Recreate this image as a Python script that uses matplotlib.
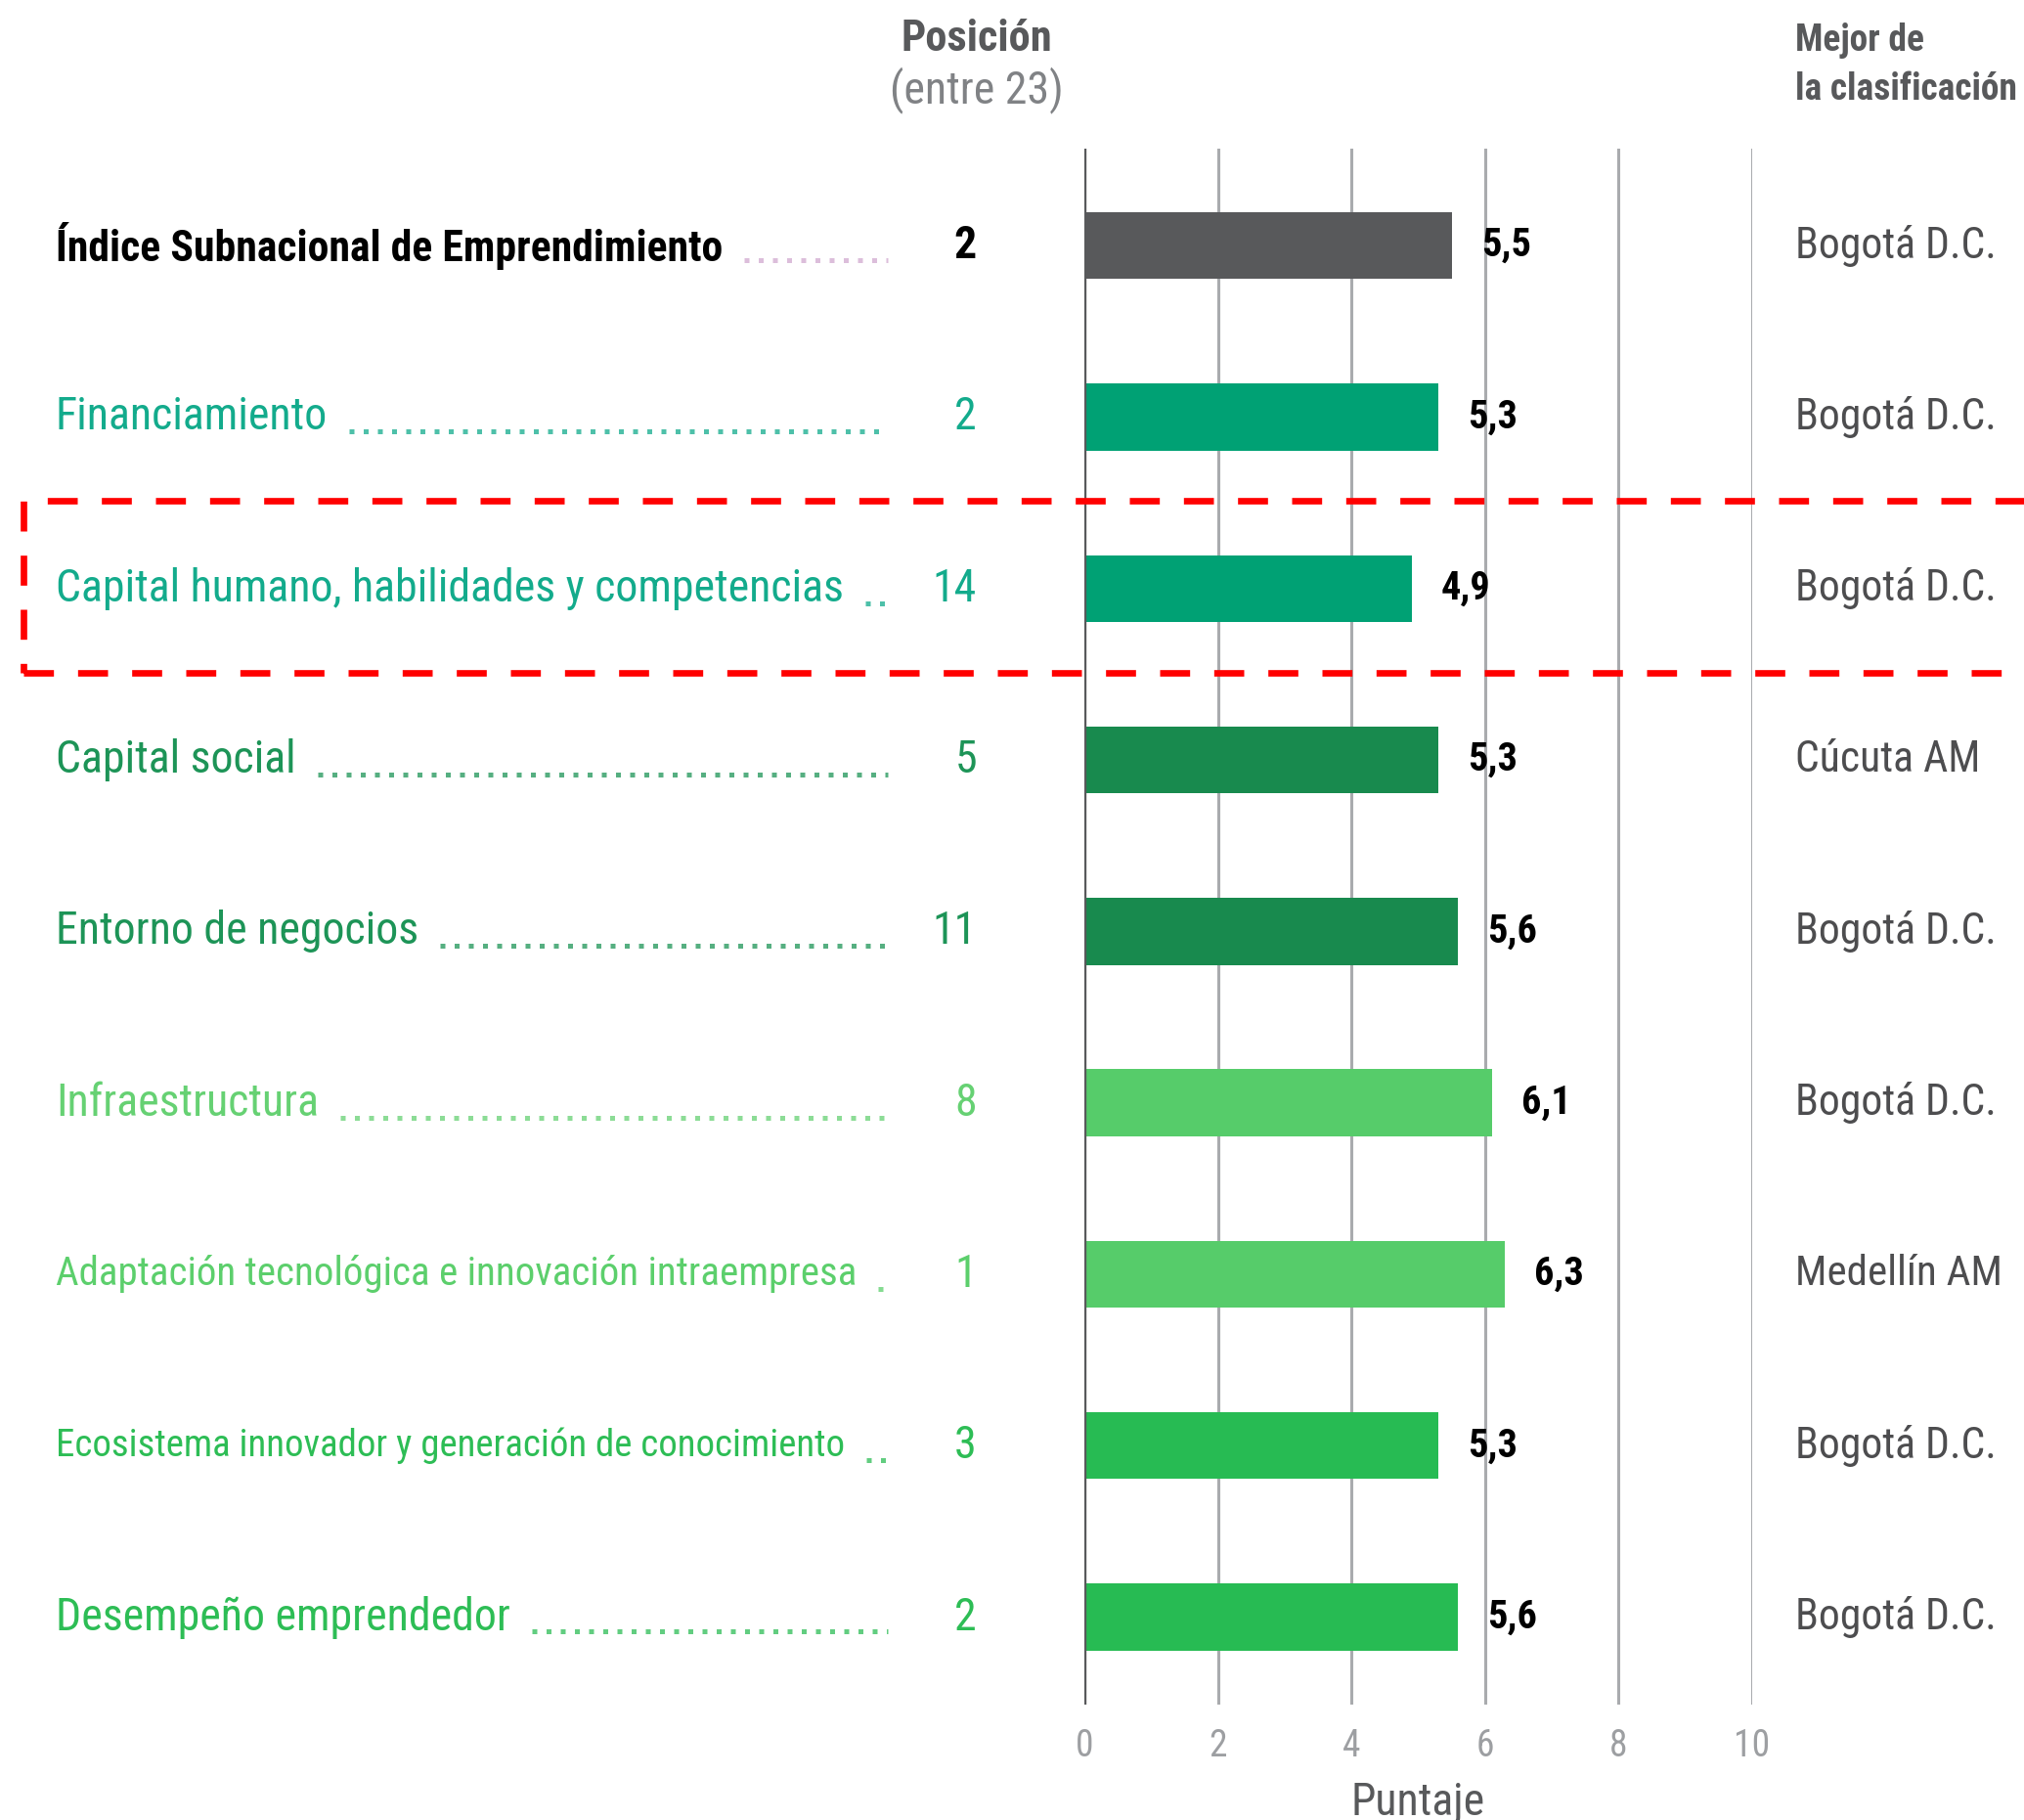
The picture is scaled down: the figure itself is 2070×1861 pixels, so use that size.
import matplotlib
matplotlib.use('Agg')
import matplotlib.pyplot as plt
from matplotlib import font_manager
from matplotlib.transforms import blended_transform_factory
from matplotlib.patches import Rectangle

# ============================================================
# FUENTE: una condensada si hay, si no Liberation Sans
# ============================================================
fuentes = font_manager.fontManager.ttflist
familia = None
estiramiento = 'normal'
for cand in ['Liberation Sans Narrow', 'Roboto Condensed', 'Open Sans Condensed',
             'Noto Sans Condensed', 'DejaVu Sans Condensed']:
    if any(f.name == cand for f in fuentes):
        familia = cand
        break
if familia is None:
    for f in fuentes:
        if f.stretch in ('condensed', 'semi-condensed') and 'Mono' not in f.name and 'Serif' not in f.name:
            familia = f.name
            estiramiento = f.stretch
            break
if familia is None:
    familia = 'Liberation Sans'
plt.rcParams['font.family'] = [familia, 'DejaVu Sans']
plt.rcParams['font.stretch'] = estiramiento

# ============================================================
# DATOS
# ============================================================
categorias = ['Índice Subnacional de Emprendimiento',
              'Financiamiento',
              'Capital humano, habilidades y competencias',
              'Capital social',
              'Entorno de negocios',
              'Infraestructura',
              'Adaptación tecnológica e innovación intraempresa',
              'Ecosistema innovador y generación de conocimiento',
              'Desempeño emprendedor']
puntajes   = [5.5, 5.3, 4.9, 5.3, 5.6, 6.1, 6.3, 5.3, 5.6]
posiciones = [2, 2, 14, 5, 11, 8, 1, 3, 2]
mejores    = ['Bogotá D.C.', 'Bogotá D.C.', 'Bogotá D.C.', 'Cúcuta AM', 'Bogotá D.C.',
              'Bogotá D.C.', 'Medellín AM', 'Bogotá D.C.', 'Bogotá D.C.']
ticks      = [0, 2, 4, 6, 8, 10]

colores_barra  = ['#58595b', '#00a174', '#00a174', '#188a4e', '#188a4e',
                  '#56cc6a', '#56cc6a', '#27bb53', '#27bb53']
colores_texto  = ['#000000', '#13ab8c', '#13ab8c', '#1d9457', '#1d9457',
                  '#66d173', '#5ccf6c', '#2dbd55', '#2dbd55']
colores_puntos = ['#d1a9cf', '#13ab8c', '#13ab8c', '#1d9457', '#1d9457',
                  '#66d173', '#5ccf6c', '#2dbd55', '#2dbd55']

# ============================================================
# FIGURA
# ============================================================
W, H = 2070, 1861
fig = plt.figure(figsize=(W / 100, H / 100), dpi=100)

def fx(px):
    return px / W

def fy(py):
    return 1 - py / H

def ajustar(t, ancho_max, r):
    # achica la letra hasta que el texto quepa
    tam = t.get_fontsize()
    while t.get_window_extent(r).width > ancho_max and tam > 8:
        tam = tam - 0.5
        t.set_fontsize(tam)

x0, x10, ytop, ybot = 1109, 1792, 152, 1743
ax = fig.add_axes([fx(x0), fy(ybot), fx(x10 - x0), (ybot - ytop) / H])

n = len(categorias)
filas = list(range(n))
ax.barh(filas, puntajes, height=0.39, color=colores_barra, zorder=3)
ax.set_xlim(0, 10)
ax.set_ylim(8.51, -0.565)
ax.set_xticks(ticks)
ax.set_xticklabels([str(t) for t in ticks], color='#9d9fa2', fontsize=27)
ax.tick_params(axis='x', length=0, pad=17)
ax.set_yticks([])
for s in ax.spines.values():
    s.set_visible(False)
ax.set_axisbelow(True)
ax.xaxis.grid(True, color='#a9abae', lw=2.2)
ax.axvline(0, color='#58595b', lw=2.4, zorder=4)

for i in filas:
    v = puntajes[i]
    ax.annotate(f'{v:.1f}'.replace('.', ','), xy=(v, i), xytext=(30, 0),
                textcoords='offset pixels', va='center', ha='left',
                fontsize=29, fontweight='bold', color='black')

# ============================================================
# TEXTOS A LA IZQUIERDA Y DERECHA
# ============================================================
tr = blended_transform_factory(fig.transFigure, ax.transData)
etiquetas = []
ciudades = []
for i in filas:
    peso = 'bold' if i == 0 else 'normal'
    tam = 31.5 if i == 0 else 33
    t = fig.text(fx(57), i, categorias[i], transform=tr, ha='left', va='center',
                 fontsize=tam, fontweight=peso, color=colores_texto[i])
    etiquetas.append(t)
    fig.text(fx(999), i, str(posiciones[i]), transform=tr, ha='right', va='center',
             fontsize=33, fontweight=peso, color=colores_texto[i])
    c = fig.text(fx(1836), i, mejores[i], transform=tr, ha='left', va='center',
                 fontsize=31.5, color='#4d4d4f')
    ciudades.append(c)

fig.canvas.draw()
r = fig.canvas.get_renderer()
for t in etiquetas:
    ajustar(t, 822, r)
for c in ciudades:
    ajustar(c, 215, r)

# puntos guia
for i in filas:
    bb = etiquetas[i].get_window_extent(r)
    inicio = bb.x1 + 22
    if inicio < 900:
        ax.plot([fx(inicio), fx(908)], [i + 0.085, i + 0.085], transform=tr,
                color=colores_puntos[i], lw=3.6, linestyle=(0, (1.0, 1.9)),
                clip_on=False, alpha=0.75)

# encabezados
fig.text(fx(999), fy(40), 'Posición', ha='center', va='center', fontsize=32,
         fontweight='bold', color='#58595b')
fig.text(fx(999), fy(92), '(entre 23)', ha='center', va='center', fontsize=33,
         color='#808285')
fig.text(fx(1836), fy(42), 'Mejor de', ha='left', va='center', fontsize=27,
         fontweight='bold', color='#58595b')
fig.text(fx(1836), fy(92), 'la clasificación', ha='left', va='center', fontsize=27,
         fontweight='bold', color='#58595b')
fig.text(fx(1450), fy(1843), 'Puntaje', ha='center', va='center', fontsize=33,
         color='#58595b')

# recuadro rojo
fig.patches.append(Rectangle((fx(24), fy(688)), fx(2200 - 24), (688 - 512) / H,
                             transform=fig.transFigure, fill=False, edgecolor='#ff0000',
                             lw=4.8, linestyle=(0, (4.6, 3.7))))

fig.savefig('out.png', dpi=100)
